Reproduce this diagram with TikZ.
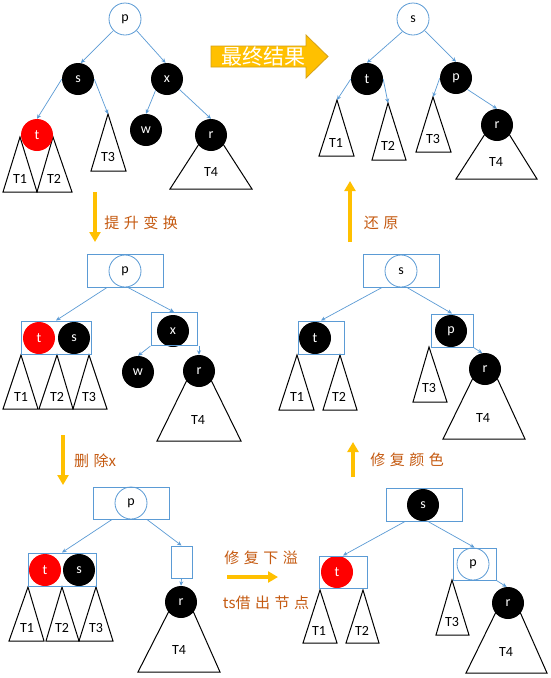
\documentclass[tikz,border=0pt]{standalone}
\usepackage{fontspec}
\setmainfont{Carlito}
\newfontfamily\cjkfont[LetterSpace=30]{Noto Sans CJK SC}
\newfontfamily\cjkplain{Noto Sans CJK SC}
\usetikzlibrary{arrows.meta}
\definecolor{nodeblue}{HTML}{5B9BD5}
\definecolor{stepgold}{HTML}{FFC000}
\definecolor{goldedge}{HTML}{D4A017}
\definecolor{notebrown}{HTML}{C55A11}
\newcommand{\lblfont}{\fontsize{14}{16}\selectfont}
\newcommand{\notefont}{\cjkfont\fontsize{15}{18}\selectfont}

\begin{document}
\begin{tikzpicture}[x=1pt, y=-1pt,
    blk/.style={circle, fill=black, text=white, minimum size=32pt, inner sep=0pt, font=\lblfont},
    rednd/.style={blk, fill=red},
    hollow/.style={circle, draw=nodeblue, fill=white, text=black, line width=0.8pt,
                   minimum size=32pt, inner sep=0pt, font=\lblfont},
    grp/.style={draw=nodeblue, line width=1pt, minimum width=#1, minimum height=33pt, inner sep=0pt},
    tri/.style={draw=black, line width=1pt},
    tlbl/.style={font=\lblfont, inner sep=0pt},
    link/.style={draw=nodeblue, line width=0.7pt, -{Stealth[length=4.5pt, width=4pt]}},
    move/.style={draw=stepgold, line width=4pt, -{Triangle[length=10pt, width=11pt]}},
    note/.style={text=notebrown, font=\notefont, inner sep=0pt}]
  \fill[white] (0,0) rectangle (551,678);
  \useasboundingbox (0,0) rectangle (551,678);

  % ---- start: delete x
  \draw[tri] (20,137) -- (3,192) -- (37,192) -- cycle;
  \draw[tri] (53,137) -- (37,192) -- (72,192) -- cycle;
  \coordinate (a-T3top) at (108,114);
  \draw[tri] (a-T3top) -- (91,171) -- (126,171) -- cycle;
  \draw[tri] (199,144) -- (170,189) -- (252,189) -- (223,144);
  \node[tlbl] (a-T1) at (20,179) {T1};
  \node[tlbl] (a-T2) at (54,179) {T2};
  \node[tlbl] (a-T3) at (108,157) {T3};
  \node[tlbl] (a-T4) at (211,172) {T4};
  \node[hollow] (a-p) at (125,19) {p};
  \node[blk] (a-s) at (78,79) {s};
  \node[blk] (a-x) at (167,79) {x};
  \node[rednd] (a-t) at (37,135) {t};
  \node[blk] (a-w) at (146,130) {w};
  \node[blk] (a-r) at (211,135) {r};
  \draw[link] (a-p.225) -- (a-s.80);
  \draw[link] (a-p.-45) -- (a-x.95);
  \draw[link] (a-s.180) -- (a-t.north);
  \draw[link] (a-s.east) -- (a-T3top);
  \draw[link] (a-x.225) -- (a-w.north);
  \draw[link] (a-x.-40) -- (a-r.north);

  % ---- final result
  \filldraw[fill=stepgold, draw=goldedge, line width=0.8pt]
    (211,46) -- (306,46) -- (306,35) -- (328,56.5) -- (306,78) -- (306,67) -- (211,67) -- cycle;
  \node[text=white, font=\cjkplain\fontsize{21}{24}\selectfont, inner sep=0pt] (final) at (263,57) {最终结果};
  \coordinate (b-T1top) at (337,100);
  \coordinate (b-T2top) at (388,103);
  \coordinate (b-T3top) at (433,97);
  \draw[tri] (b-T1top) -- (319,156) -- (354,156) -- cycle;
  \draw[tri] (b-T2top) -- (372,160) -- (406,160) -- cycle;
  \draw[tri] (b-T3top) -- (416,152) -- (451,152) -- cycle;
  \draw[tri] (485,134) -- (456,179) -- (537,179) -- (509,134);
  \node[tlbl] (b-T1) at (336,143) {T1};
  \node[tlbl] (b-T2) at (388,146) {T2};
  \node[tlbl] (b-T3) at (433,139) {T3};
  \node[tlbl] (b-T4) at (496,162) {T4};
  \node[hollow] (b-s) at (413,19) {s};
  \node[blk] (b-t) at (367,79) {t};
  \node[blk] (b-p) at (456,78) {p};
  \node[blk] (b-r) at (497,125) {r};
  \draw[link] (b-s.230) -- (b-t.north);
  \draw[link] (b-s.-45) -- (b-p.north);
  \draw[link] (b-t.west) -- (b-T1top);
  \draw[link] (b-t.east) -- (b-T2top);
  \draw[link] (b-p.west) -- (b-T3top);
  \draw[link] (b-p.-45) -- (b-r.north);

  % ---- after rotation
  \draw[tri] (21,355) -- (3,409) -- (38,409) -- cycle;
  \draw[tri] (57,355) -- (39,409) -- (73,409) -- cycle;
  \draw[tri] (89,355) -- (73,409) -- (107,409) -- cycle;
  \draw[tri] (187,380) -- (157,441) -- (241,441) -- (211,380);
  \node[tlbl] (c-T1) at (21,397) {T1};
  \node[tlbl] (c-T2) at (57,397) {T2};
  \node[tlbl] (c-T3) at (89,397) {T3};
  \node[tlbl] (c-T4) at (198,420) {T4};
  \node[hollow] (c-p) at (125,271) {p};
  \node[rednd] (c-t) at (39,338) {t};
  \node[blk] (c-s) at (74,338) {s};
  \node[blk] (c-x) at (173,331) {x};
  \node[blk] (c-w) at (138,372) {w};
  \node[blk] (c-r) at (199,371) {r};
  \node[grp=76pt] (c-pbox) at (125,270.5) {};
  \node[grp=70pt] (c-tsbox) at (56,337.5) {};
  \node[grp=46pt] (c-xbox) at (174,329) {};
  \draw[link] ([xshift=-18pt]c-pbox.south) -- (c-tsbox.north);
  \draw[link] ([xshift=3pt]c-pbox.south) -- (c-xbox.north);
  \draw[link] (c-xbox.south west) -- (c-w.north);
  \draw[link] (c-xbox.south east -| c-r) -- (c-r.north);
  \coordinate (m1a) at (95,192);
  \coordinate (m1b) at (95,242);
  \draw[move] (m1a) -- (m1b);
  \node[note] (m1txt) at (141,223) {提升变换};

  % ---- restore
  \draw[tri] (297,355) -- (279,410) -- (314,410) -- cycle;
  \draw[tri] (340,355) -- (323,410) -- (357,410) -- cycle;
  \draw[tri] (429,347) -- (413,402) -- (447,402) -- cycle;
  \draw[tri] (473,378) -- (443,439) -- (525,439) -- (497,378);
  \node[tlbl] (d-T1) at (297,397) {T1};
  \node[tlbl] (d-T2) at (339,397) {T2};
  \node[tlbl] (d-T3) at (429,388) {T3};
  \node[tlbl] (d-T4) at (483,418) {T4};
  \node[hollow] (d-s) at (401,271) {s};
  \node[blk] (d-t) at (315,338) {t};
  \node[blk] (d-p) at (451,331) {p};
  \node[blk] (d-r) at (485,369) {r};
  \node[grp=76pt] (d-sbox) at (401,270.5) {};
  \node[grp=46pt] (d-tbox) at (321,337.5) {};
  \node[grp=42pt] (d-pbox) at (452,330.5) {};
  \draw[link] ([xshift=-19pt]d-sbox.south) -- (d-tbox.north);
  \draw[link] ([xshift=6pt]d-sbox.south) -- (d-pbox.north);
  \draw[link] (d-pbox.south east) -- (d-r.100);
  \coordinate (m5a) at (350,242);
  \coordinate (m5b) at (350,181);
  \draw[move] (m5a) -- (m5b);
  \node[note] (m5txt) at (381,223) {还原};

  % ---- x deleted
  \draw[tri] (28,587) -- (9,641) -- (44,641) -- cycle;
  \draw[tri] (62,587) -- (46,641) -- (79,641) -- cycle;
  \draw[tri] (96,587) -- (79,641) -- (113,641) -- cycle;
  \draw[tri] (169,611) -- (138,672) -- (220,672) -- (193,611);
  \node[tlbl] (e-T1) at (27,628) {T1};
  \node[tlbl] (e-T2) at (62,628) {T2};
  \node[tlbl] (e-T3) at (96,628) {T3};
  \node[tlbl] (e-T4) at (179,650) {T4};
  \node[hollow] (e-p) at (131,503) {p};
  \node[rednd] (e-t) at (45,570) {t};
  \node[blk] (e-s) at (79,570) {s};
  \node[blk] (e-r) at (181,602) {r};
  \node[grp=76pt, minimum height=32pt] (e-pbox) at (131,503) {};
  \node[grp=68pt] (e-tsbox) at (62,569.5) {};
  \node[grp=21pt, minimum height=32pt] (e-empty) at (181.5,562) {};
  \draw[link] ([xshift=-19pt]e-pbox.south) -- (e-tsbox.north);
  \draw[link] ([xshift=16pt]e-pbox.south) -- (e-empty.north);
  \draw[link] (e-empty.south) -- (e-r.north);
  \coordinate (m2a) at (63,435);
  \coordinate (m2b) at (63,485);
  \draw[move] (m2a) -- (m2b);
  \node[note] (m2txt) at (95,461) {删除{\cjkplain x}};

  % ---- fix underflow
  \coordinate (m3a) at (227,577);
  \coordinate (m3b) at (278,577);
  \draw[move] (m3a) -- (m3b);
  \node[note] (m3txt) at (261,558) {修复下溢};
  \node[note] (m3sub) at (266,603) {{\cjkplain ts}借出节点};

  % ---- fix colour
  \draw[tri] (320,590) -- (303,643) -- (337,643) -- cycle;
  \draw[tri] (363,590) -- (346,643) -- (379,643) -- cycle;
  \draw[tri] (452,580) -- (436,635) -- (469,635) -- cycle;
  \draw[tri] (496,612) -- (466,673) -- (547,673) -- (520,612);
  \node[tlbl] (f-T1) at (319,631) {T1};
  \node[tlbl] (f-T2) at (362,631) {T2};
  \node[tlbl] (f-T3) at (452,622) {T3};
  \node[tlbl] (f-T4) at (506,652) {T4};
  \node[blk] (f-s) at (423,505) {s};
  \node[rednd] (f-t) at (337,572) {t};
  \node[hollow] (f-p) at (473,564) {p};
  \node[blk] (f-r) at (508,603) {r};
  \node[grp=76pt] (f-sbox) at (424,504.5) {};
  \node[grp=48pt, minimum height=32pt] (f-tbox) at (343,572) {};
  \node[grp=43pt, minimum height=32pt] (f-pbox) at (474.5,564) {};
  \draw[link] ([xshift=-19pt]f-sbox.south) -- (f-tbox.north);
  \draw[link] ([xshift=4pt]f-sbox.south) -- (f-pbox.north);
  \draw[link] (f-pbox.south east) -- (f-r.95);
  \coordinate (m4a) at (353,477);
  \coordinate (m4b) at (353,442);
  \draw[move] (m4a) -- (m4b);
  \node[note] (m4txt) at (407,460) {修复颜色};
\end{tikzpicture}
\end{document}
